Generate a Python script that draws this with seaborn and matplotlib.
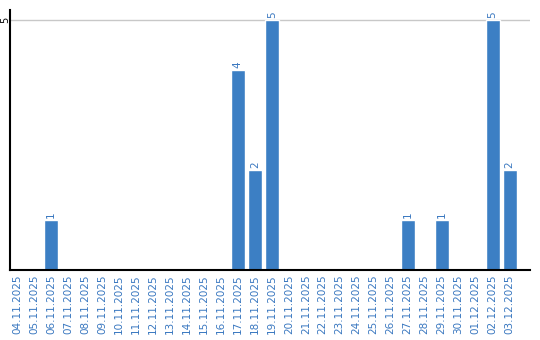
import matplotlib
matplotlib.use("Agg")
import matplotlib.pyplot as plt
import seaborn as sns
import pandas as pd

dates = ["04.11.2025", "05.11.2025", "06.11.2025", "07.11.2025", "08.11.2025",
         "09.11.2025", "10.11.2025", "11.11.2025", "12.11.2025", "13.11.2025",
         "14.11.2025", "15.11.2025", "16.11.2025", "17.11.2025", "18.11.2025",
         "19.11.2025", "20.11.2025", "21.11.2025", "22.11.2025", "23.11.2025",
         "24.11.2025", "25.11.2025", "26.11.2025", "27.11.2025", "28.11.2025",
         "29.11.2025", "30.11.2025", "01.12.2025", "02.12.2025", "03.12.2025"]
counts = [0, 0, 1, 0, 0, 0, 0, 0, 0, 0, 0, 0, 0, 4, 2, 5, 0, 0, 0, 0,
          0, 0, 0, 1, 0, 1, 0, 0, 5, 2]
yticks = [5]

BLUE = "#3c7fc4"
LBL = "#3a78c0"

sns.set_theme(style="white")
plt.rcParams['font.family'] = ['DejaVu Sans']

df = pd.DataFrame({"date": dates, "count": counts})
fig = plt.figure(figsize=(5.4, 3.4), dpi=100)
ax = fig.add_axes([10/540, 70/340, 520/540, 260/340])
sns.barplot(data=df, x="date", y="count", color=BLUE, width=0.82,
            saturation=1, ax=ax, order=dates)

for i, v in enumerate(counts):
    if v > 0:
        ax.text(i, v + 0.05, str(v), rotation=90, ha="center", va="bottom",
                color=LBL, fontsize=7.5)

ax.set_xlim(-0.41, 30.2)
ax.set_ylim(0, 5.2)
ax.set_yticks(yticks)
ax.set_yticklabels([str(t) for t in yticks], rotation=90, va="center",
                   ha="center", fontsize=7, color="black")
ax.yaxis.grid(True, color="#c8c8c8", linewidth=1)
ax.set_axisbelow(True)
ax.set_xticks(range(len(dates)))
ax.set_xticklabels(dates, rotation=90, color=LBL, fontsize=7.5)
ax.tick_params(axis="both", length=0, pad=3)
ax.tick_params(axis="y", pad=3.5)
ax.set_xlabel("")
ax.set_ylabel("")
for s in ["top", "right"]:
    ax.spines[s].set_visible(False)
for s in ["left", "bottom"]:
    ax.spines[s].set_color("black")
    ax.spines[s].set_linewidth(1.5)

fig.savefig("out.png", dpi=100)
